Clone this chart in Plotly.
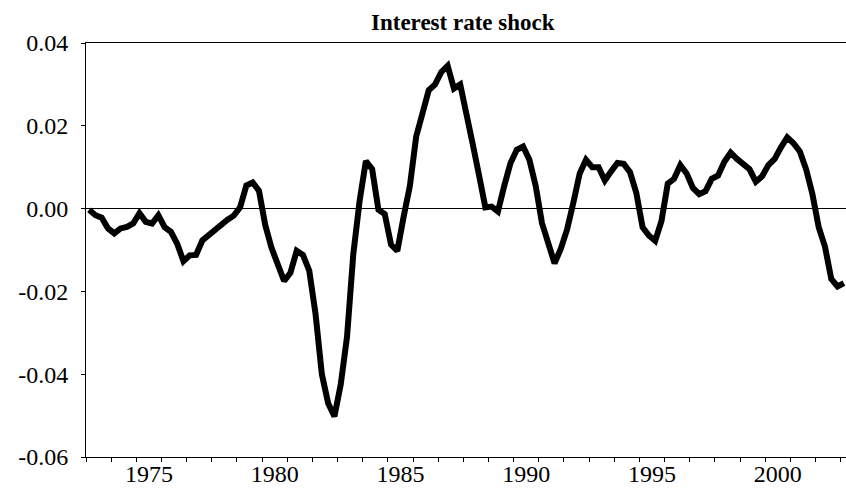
import plotly.graph_objects as go

# Quarterly data, 1973Q1 .. 2003Q1
start_year = 1973
shock = [
    -0.0003, -0.0016, -0.0022, -0.0048, -0.0060, -0.0048, -0.0044, -0.0036,
    -0.0011, -0.0032, -0.0036, -0.0016, -0.0045, -0.0056, -0.0085, -0.0127,
    -0.0113, -0.0112, -0.0077, -0.0064, -0.0053, -0.0038, -0.0027, -0.0017,
    0.0003, 0.0056, 0.0063, 0.0043, -0.0040, -0.0095, -0.0135, -0.0175,
    -0.0155, -0.0102, -0.0112, -0.0150, -0.0255, -0.0400, -0.0470, -0.0502,
    -0.0425, -0.0310, -0.0110, 0.0018, 0.0115, 0.0095, -0.0003, -0.0013,
    -0.0087, -0.0102, -0.0020, 0.0055, 0.0174, 0.0230, 0.0286, 0.0300,
    0.0330, 0.0345, 0.0290, 0.0300, 0.0220, 0.0155, 0.0080, 0.0003,
    0.0005, -0.0007, 0.0055, 0.0110, 0.0142, 0.0150, 0.0118, 0.0055,
    -0.0035, -0.0080, -0.0132, -0.0097, -0.0050, 0.0015, 0.0085, 0.0118,
    0.0100, 0.0100, 0.0068, 0.0090, 0.0110, 0.0108, 0.0088, 0.0038,
    -0.0045, -0.0065, -0.0078, -0.0030, 0.0060, 0.0072, 0.0105, 0.0085,
    0.0050, 0.0035, 0.0042, 0.0072, 0.0080, 0.0113, 0.0135, 0.0120,
    0.0108, 0.0095, 0.0065, 0.0078, 0.0105, 0.0120, 0.0148, 0.0172,
    0.0158, 0.0138, 0.0095, 0.0035, -0.0045, -0.0092, -0.0170, -0.0188,
    -0.0180,
]
dates = [start_year + 0.125 + 0.25 * i for i in range(len(shock))]

year_ticks = list(range(1973, 2004))
label_years = [1975, 1980, 1985, 1990, 1995, 2000]
label_text = [str(y) for y in label_years]
y_ticks = [-0.06, -0.04, -0.02, 0.00, 0.02, 0.04]
y_tick_text = ["-0.06", "-0.04", "-0.02", "0.00", "0.02", "0.04"]

font_family = "Liberation Serif, Times New Roman, serif"
x_range = [1973.0, 2003.21]

fig = go.Figure()
fig.add_trace(go.Scatter(
    x=dates, y=shock, mode="lines",
    line=dict(color="black", width=6),
    showlegend=False, hoverinfo="skip",
))

fig.update_layout(
    width=846, height=489,
    paper_bgcolor="white", plot_bgcolor="white",
    margin=dict(l=86, r=0, t=43, b=32, autoexpand=False),
    title=dict(
        text="<b>Interest rate shock</b>",
        x=0.547, xanchor="center", y=0.955, yanchor="middle",
        font=dict(family=font_family, size=23, color="black"),
    ),
    font=dict(family=font_family, size=23, color="black"),
    xaxis=dict(
        range=x_range,
        automargin=False,
        tickmode="array",
        tickvals=[y + 0.5 for y in label_years], ticktext=label_text,
        ticks="",
        tickfont=dict(family=font_family, size=24, color="black"),
        ticklabelstandoff=-5,
        minor=dict(
            tickmode="array", tickvals=year_ticks,
            ticks="outside", ticklen=4, tickwidth=1, tickcolor="black",
            showgrid=False,
        ),
        showline=True, linecolor="black", linewidth=1,
        mirror=True,
        showgrid=False, zeroline=False,
    ),
    yaxis=dict(
        range=[-0.06, 0.04],
        automargin=False,
        tickmode="array", tickvals=y_ticks, ticktext=y_tick_text,
        ticks="outside", ticklen=4, tickwidth=1, tickcolor="black",
        showline=True, linecolor="black", linewidth=1,
        showgrid=False,
        zeroline=True, zerolinecolor="black", zerolinewidth=1,
        tickfont=dict(family=font_family, size=24, color="black"),
        ticklabelstandoff=8,
    ),
)

fig.write_html(
    "out.html",
    config={"displayModeBar": False},
    post_script="document.body.style.margin='0';document.body.style.padding='0';",
)
